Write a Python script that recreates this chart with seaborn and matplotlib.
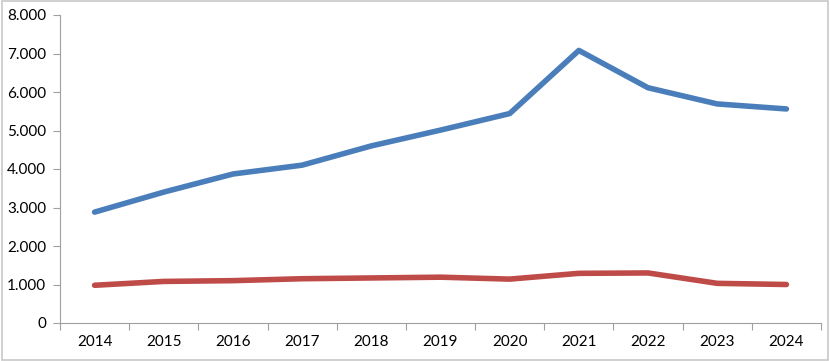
import matplotlib
matplotlib.use("Agg")
import matplotlib.pyplot as plt
import matplotlib.ticker as mticker
import seaborn as sns
import pandas as pd
import numpy as np

years = ["2014", "2015", "2016", "2017", "2018", "2019", "2020", "2021", "2022", "2023", "2024"]
series_blue = [2880, 3400, 3870, 4100, 4600, 5010, 5440, 7080, 6110, 5690, 5560]
series_red = [980, 1080, 1100, 1150, 1170, 1190, 1140, 1290, 1300, 1030, 1000]

sns.set_theme(style="white")
plt.rcParams['font.family'] = ['Lato', 'DejaVu Sans']

df = pd.DataFrame({
    "pos": list(range(len(years))) * 2,
    "value": series_blue + series_red,
    "series": ["A"] * len(years) + ["B"] * len(years),
})

fig = plt.figure(figsize=(8.30, 3.61), dpi=100)
ax = fig.add_axes([60 / 830, 38 / 361, 761 / 830, 308 / 361])

sns.lineplot(data=df, x="pos", y="value", hue="series",
             palette={"A": "#4A7EBB", "B": "#BE4B48"},
             linewidth=4.0, legend=False, ax=ax, solid_capstyle="round")

ax.set_xlim(-0.5, len(years) - 0.5)
ax.set_ylim(0, 8000)
ax.set_yticks(np.arange(0, 8001, 1000))
ax.yaxis.set_major_formatter(mticker.FuncFormatter(lambda v, p: f"{int(v):,}".replace(",", ".")))

ax.set_xticks(np.arange(-0.5, len(years), 1.0))
ax.set_xticklabels([])
ax.set_xticks(np.arange(len(years)), minor=True)
ax.set_xticklabels(years, minor=True)
ax.tick_params(axis="x", which="major", length=5, width=0.8, color="#A0A0A0", direction="out", bottom=True)
ax.tick_params(axis="x", which="minor", length=0, pad=9, labelsize=11, labelcolor="black")
ax.tick_params(axis="y", length=5, width=0.8, color="#A0A0A0", direction="out", left=True, pad=5,
               labelsize=11, labelcolor="black")

for s in ["top", "right"]:
    ax.spines[s].set_visible(False)
for s in ["left", "bottom"]:
    ax.spines[s].set_color("#A0A0A0")
    ax.spines[s].set_linewidth(0.8)

ax.set_xlabel("")
ax.set_ylabel("")

border = plt.Rectangle((0.002, 0.003), 0.996, 0.994, transform=fig.transFigure,
                       fill=False, edgecolor="#C8C8C8", linewidth=1.2)
fig.patches.append(border)

fig.savefig("out.png", dpi=100)
